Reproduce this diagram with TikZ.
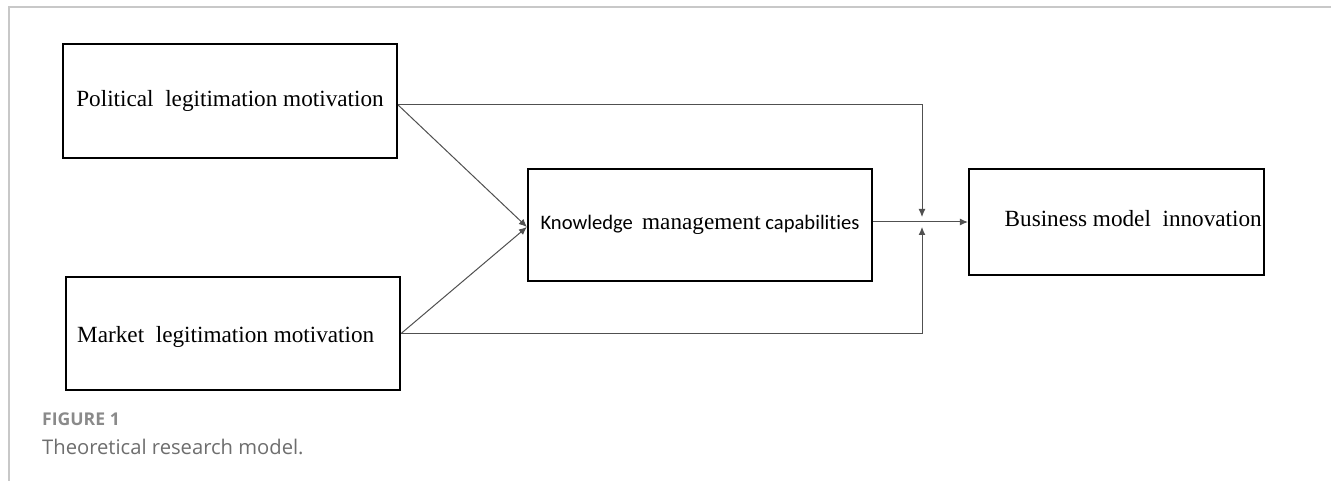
\documentclass[tikz,border=0pt]{standalone}
\usepackage{fontspec}
\setmainfont{Liberation Serif}
\newfontfamily\kmcsans[Ligatures=NoCommon]{Carlito}
\newfontfamily\capfont{Open Sans}
\usetikzlibrary{arrows.meta,calc}
\definecolor{framegray}{HTML}{C8C8C8}
\definecolor{linkgray}{HTML}{505050}
\definecolor{capgray}{HTML}{8A8A8A}
\definecolor{titlegray}{HTML}{6E6E6E}
\begin{document}
\begin{tikzpicture}[x=1pt,y=-1pt,
  box/.style={draw=black,line width=2.2pt,minimum width=#1,inner sep=0pt},
  boxtext/.style={font=\fontsize{23.2}{28}\selectfont},
  link/.style={draw=linkgray,line width=1pt,-{Latex[length=8pt,width=7pt]}},
  framerule/.style={draw=framegray,line width=1.5pt}]
  \useasboundingbox (0,0) rectangle (1331,481);
  \fill[white] (0,0) rectangle (1331,481);

  % panel frame
  \draw[framerule] (9,481) -- (9,7) -- (1331,7);

  % construct boxes
  \node[box=334pt,minimum height=114pt,boxtext] (pol) at (230,101)
    {Political\ \ legitimation motivation};
  \node[box=334pt,minimum height=113pt] (mkt) at (233,333.5) {};
  \node[boxtext,anchor=base west,inner sep=0pt] (mkttext) at (77,342)
    {Market\ \ legitimation motivation};
  \node[box=344pt,minimum height=112pt] (kmc) at (700,225)
    {\kmcsans\fontsize{20.6}{24}\selectfont Knowledge\ \ {\rmfamily\fontsize{23.2}{28}\selectfont management} capabilities};
  \node[box=295pt,minimum height=106pt] (bmi) at (1116.5,222) {};
  \node[boxtext,anchor=base east,inner sep=0pt] (bmitext) at (1262,227)
    {Business model\ \ innovation};

  % junction where the direct paths meet the mediated path
  \coordinate (j) at (922,222);
  \coordinate (polout) at ($(pol.east)+(0,4)$);
  \coordinate (mktout) at (mkt.east);

  % mediated paths
  \draw[link] (polout) -- ($(kmc.west)+(0,2)$);
  \draw[link] (mktout) -- ($(kmc.west)+(0,2)$);
  \draw[link] (kmc.east |- bmi.west) -- (bmi.west);

  % direct paths onto the junction
  \draw[link] (polout) -| ($(j)+(0,-5)$);
  \draw[link] (mktout) -| ($(j)+(0,5)$);

  % caption
  \node[anchor=base west,inner sep=0pt,text=capgray,
    font=\capfont\fontsize{17.6}{21}\selectfont\bfseries] (fig) at (42,425) {FIGURE 1};
  \node[anchor=base west,inner sep=0pt,text=titlegray,
    font=\capfont\fontsize{20.2}{24}\selectfont] (cap) at (42,454) {Theoretical research model.};
\end{tikzpicture}
\end{document}
